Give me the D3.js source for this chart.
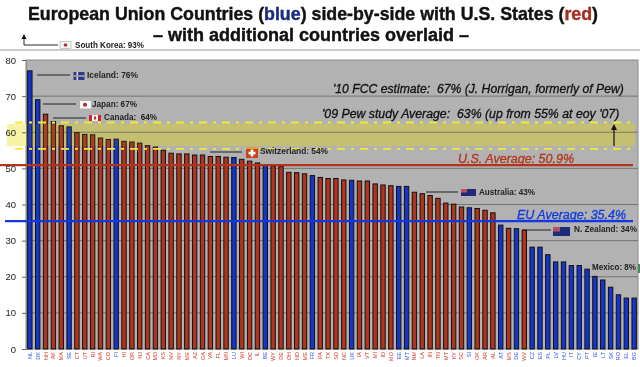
<!DOCTYPE html>
<html><head><meta charset="utf-8">
<script src="https://cdnjs.cloudflare.com/ajax/libs/d3/7.8.5/d3.min.js"></script>
<style>html,body{margin:0;padding:0;background:#fff;overflow:hidden}svg{display:block;filter:blur(.35px)}text{font-family:"Liberation Sans",Arial,sans-serif}</style>
</head><body><svg id="c" width="640" height="367"></svg>
<script>
const categories=["NL","DK","NH","AK","MA","SE","CT","UT","RI","WA","CO","FI","HI","OR","NJ","CA","MD","KS","NV","NY","ME","AZ","GA","VA","FL","MN","LU","WI","DC","IL","BE","WY","DE","OH","ND","ME","FR","PA","TX","SD","NC","UK","IA","VT","MI","ID","MO","EE","MT","NM","LA","IN","TN","MT","KY","SC","SI","OK","AR","AL","AT","MS","DE","WV","CZ","ES","PL","LV","HU","IT","CY","PT","IE","LT","SK","RO","EL","BG"];
const values=[77,69,65,63,61.8,61.5,59.9,59.4,59.3,58.4,58,58.1,57.5,57.3,57,56.3,55.9,55,54.2,54,54,53.7,53.7,53.3,53.3,53.1,53,52.5,52,51.5,51,50.6,50.5,48.9,48.8,48.5,48,47.5,47.2,47.2,46.8,46.7,46.5,46.5,45.7,45.4,45.2,45,45,43.4,43,42.5,41.7,40.4,40.1,39.3,39.1,38.9,38.4,37.7,34.3,33.4,33.3,32.9,28.2,28.2,26.1,24.1,24.1,23.1,23.1,22.1,20.1,19.1,17.1,15,14.1,14.1];
const euPositions=[0,1,5,11,26,30,36,41,47,48,56,60,62,64,65,66,67,68,69,70,71,72,73,74,75,76,77];
const yTicks=[0,10,20,30,40,50,60,70,80];
const usAvg=50.9, euAvg=35.4, fillLow=56.2, fillHigh=62.3, dashLow=55.4, dashHigh=62.7;

const svg=d3.select("#c");
const L=26,R=638,T=60,B=349;
const x=d3.scaleBand().domain(d3.range(categories.length)).range([L,R]).paddingInner(0.44).paddingOuter(0.21);
const y=d3.scaleLinear().domain([0,80]).range([B,T]);
const RED="#b3341c",BLUE="#1534cc";
const isEU=i=>euPositions.includes(i);

svg.append("rect").attr("x",L).attr("y",T).attr("width",R-L).attr("height",B-T).attr("fill","#b2b2b2").attr("stroke","#8c8c8c");
svg.append("line").attr("x1",0).attr("x2",640).attr("y1",50).attr("y2",50).attr("stroke","#999");

// band underneath the bars
svg.append("rect").attr("x",7).attr("width",L-7).attr("y",y(fillHigh)).attr("height",y(fillLow)-y(fillHigh)).attr("fill","#f7f3a4");
svg.append("rect").attr("x",L).attr("width",635-L).attr("y",y(fillHigh)).attr("height",y(fillLow)-y(fillHigh)).attr("fill","#cdc878");

svg.append("g").selectAll("line").data(yTicks.slice(1,-1)).join("line").attr("x1",L).attr("x2",R).attr("y1",d=>y(d)).attr("y2",d=>y(d)).attr("stroke","#666").attr("stroke-width",.8);

const ax=d3.axisLeft(y).tickValues(yTicks).tickSize(4).tickPadding(6);
const gy=svg.append("g").attr("transform",`translate(${L},0)`).call(ax);
gy.select(".domain").attr("stroke","#888");gy.selectAll(".tick line").attr("stroke","#666");
gy.selectAll("text").attr("font-family","DejaVu Sans").attr("font-size",9.5).attr("fill","#222");

svg.append("g").selectAll("rect").data(values).join("rect")
 .attr("x",(d,i)=>x(i)).attr("width",x.bandwidth()).attr("y",d=>y(d)).attr("height",d=>B-y(d))
 .attr("fill",(d,i)=>isEU(i)?BLUE:RED).attr("stroke","#111").attr("stroke-width",1);

svg.append("g").selectAll("text").data(categories).join("text")
 .attr("transform",(d,i)=>`translate(${x(i)+x.bandwidth()/2+2},352) rotate(-90)`)
 .attr("text-anchor","end").attr("font-size",5.5)
 .attr("fill",(d,i)=>isEU(i)?"#3050e8":"#d03828").text(d=>d);

// tint over the bars inside the band
svg.append("rect").attr("x",L).attr("width",635-L).attr("y",y(fillHigh)).attr("height",y(fillLow)-y(fillHigh)).attr("fill","#8a8440").attr("opacity",.12);
[dashLow,dashHigh].forEach(v=>svg.append("line").attr("x1",15).attr("x2",636).attr("y1",y(v)).attr("y2",y(v)).attr("stroke","#f2ea30").attr("stroke-width",1.8).attr("stroke-dasharray","8 6 3 6"));

// averages
svg.append("line").attr("x1",0).attr("x2",633).attr("y1",y(usAvg)).attr("y2",y(usAvg)).attr("stroke",RED).attr("stroke-width",2.4);
svg.append("line").attr("x1",5).attr("x2",633).attr("y1",y(euAvg)).attr("y2",y(euAvg)).attr("stroke","#1438e0").attr("stroke-width",2.2);

const it=(t,xp,yp,fs,fill)=>svg.append("text").attr("x",xp).attr("y",yp).attr("font-size",fs).attr("font-style","italic").attr("fill",fill).attr("stroke",fill).attr("stroke-width",.3).text(t);
it("U.S. Average: 50.9%",458,163,12.5,RED);
it("EU Average: 35.4%",517,219,12.5,"#1438e0").attr("text-decoration","underline");
it("'10 FCC estimate:  67% (J. Horrigan, formerly of Pew)",333,93,12.2,"#111").style("white-space","pre");
it("'09 Pew study Average:  63% (up from 55% at eoy '07)",322,118,12.3,"#111").style("white-space","pre");

// rise arrow
svg.append("line").attr("x1",614).attr("x2",614).attr("y1",146).attr("y2",128).attr("stroke","#111").attr("stroke-width",1.2);
svg.append("path").attr("d","M614,124L611,130L617,130Z").attr("fill","#111");

// country callouts
const lab=(t,xp,yp,w)=>svg.append("text").attr("x",xp).attr("y",yp).attr("font-size",8.2).attr("font-weight","bold").attr("fill","#222").attr("textLength",w).attr("lengthAdjust","spacingAndGlyphs").style("white-space","pre").text(t);
const lead=(a,b,yy)=>svg.append("line").attr("x1",a).attr("x2",b).attr("y1",yy).attr("y2",yy).attr("stroke","#111").attr("stroke-width",.9);
const r=(xp,yp,w,h,f)=>svg.append("rect").attr("x",xp).attr("y",yp).attr("width",w).attr("height",h).attr("fill",f);

// South Korea
svg.append("path").attr("d","M24,38V45H58").attr("fill","none").attr("stroke","#111").attr("stroke-width",.9);
svg.append("path").attr("d","M24,34L21.5,39H26.5Z").attr("fill","#111");
r(60,41.5,11,7,"#f4f4f4").attr("stroke","#999").attr("stroke-width",.5);svg.append("circle").attr("cx",65.5).attr("cy",45).attr("r",1.8).attr("fill","#b03040");
lab("South Korea: 93%",75,48,69);

// Iceland
lead(37,70,75);r(73.5,72,11,8,"#20408c");r(73.5,75.3,11,1.6,"#d8d8e8");r(76.5,72,1.6,8,"#d8d8e8");r(73.5,75.7,11,.8,"#c03030");
lab("Iceland: 76%",87,78,51);
// Japan
lead(43,76,104);r(80,101,11,7.5,"#f8f8f8");svg.append("circle").attr("cx",85).attr("cy",104.7).attr("r",2).attr("fill","#c02020");
lab("Japan: 67%",92,107,45);
// Canada
lead(53,86,118);r(89,115,12,6,"#f4f0f0");r(89,115,3,6,"#c82828");r(98,115,3,6,"#c82828");r(94,116.5,2,3,"#c82828");
lab("Canada:  64%",104,120,53);
// Switzerland
lead(210,242,152);r(246,147,12,11,"#c8401c");r(246,147,12,2,"#e0a030");r(250.7,149.5,2.6,7,"#fff");r(248.5,151.7,7,2.6,"#fff");
lab("Switzerland: 54%",260,154,68);
// Australia
lead(426,458,192);r(461,189,15,7,"#1c2c78");r(461,189,6,3.5,"#c05060");
lab("Australia: 43%",479,195,56);
// New Zealand
lead(523,551,230);r(553,227,17,9,"#1c2c78");r(553,227,7,4.5,"#b05068");
lab("N. Zealand: 34%",574,232,63);
// Mexico
lab("Mexico: 8%",592,270,44);r(638,264,2,9,"#4a8a58");

// title
const tt=svg.append("text").attr("x",313).attr("y",20).attr("text-anchor","middle").attr("font-size",17.8).attr("font-weight","bold").attr("fill","#111").attr("stroke","#111").attr("stroke-width",.4);
tt.append("tspan").text("European Union Countries (");tt.append("tspan").attr("fill","#1a2a80").attr("stroke","#1a2a80").text("blue");tt.append("tspan").text(") side-by-side with U.S. States (");tt.append("tspan").attr("fill","#a03020").attr("stroke","#a03020").text("red");tt.append("tspan").text(")");
svg.append("text").attr("x",311).attr("y",41).attr("text-anchor","middle").attr("font-size",18).attr("font-weight","bold").attr("fill","#111").attr("stroke","#111").attr("stroke-width",.4).text("– with additional countries overlaid –");
</script></body></html>
